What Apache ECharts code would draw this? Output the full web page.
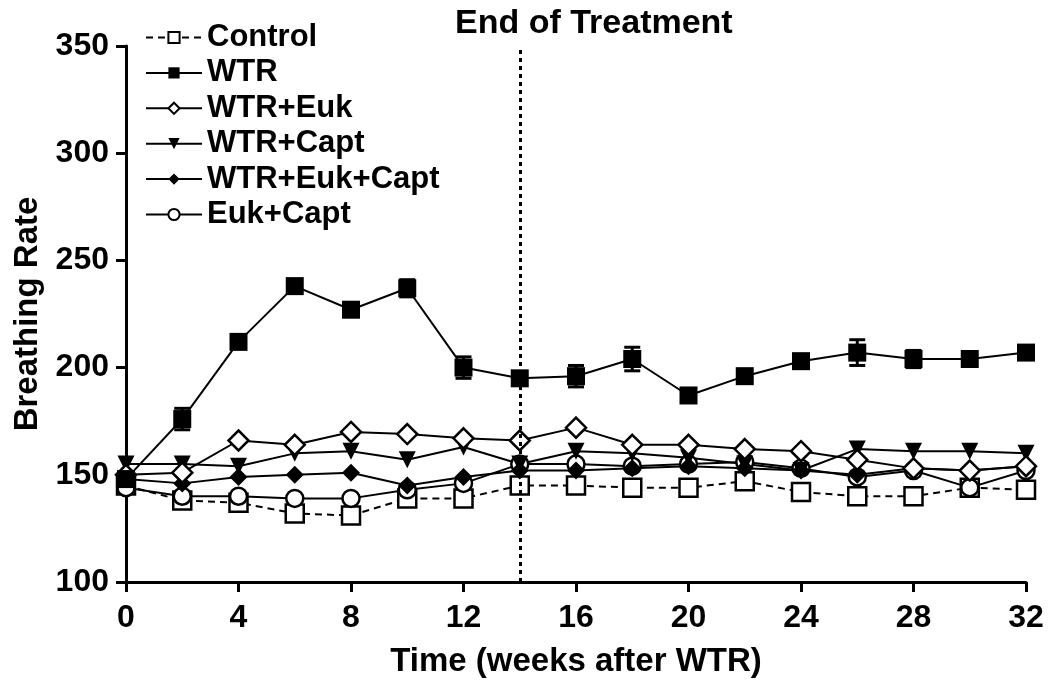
<!DOCTYPE html>
<html>
<head>
<meta charset="utf-8">
<script src="https://cdn.jsdelivr.net/npm/echarts@6/dist/echarts.min.js"></script>
<style>
html,body{margin:0;padding:0;background:#fff;}
#myChart{width:1050px;height:683px;}
</style>
</head>
<body>
<div id="myChart"></div>
<script type="text/javascript">
// weeks after WTR
var weeks = [0, 2, 4, 6, 8, 10, 12, 14, 16, 18, 20, 22, 24, 26, 28, 30, 32];

var control     = [145, 138, 137, 132, 131, 139, 139, 145, 145, 144, 144, 147, 142, 140, 140, 144, 143];
var wtr         = [148, 176, 212, 238, 227, 237, 200, 195, 196, 204, 187, 196, 203, 207, 204, 204, 207];
var wtrErr      = [0, 5, 0, 0, 0, 4, 5, 0, 5, 5.5, 3, 0, 0, 6, 4, 0, 0];
var wtrEuk      = [150, 151, 166, 164, 170, 169, 167, 166, 172, 164, 164, 162, 161, 157, 153, 152, 154];
var wtrCapt     = [155, 155, 154, 160, 161, 157, 163, 155, 161, 160, 158, 155, 152, 162, 161, 161, 160];
var wtrEukCapt  = [148, 146, 149, 150, 151, 145, 149, 152, 152, 153, 154, 153, 152, 150, 153, 152, 154];
var eukCapt     = [144, 140, 140, 139, 139, 143, 146, 155, 155, 154, 155, 156, 153, 149, 152, 144, 152];

var legendNames = ['Control', 'WTR', 'WTR+Euk', 'WTR+Capt', 'WTR+Euk+Capt', 'Euk+Capt'];
var endWeek = 14;

var font = '"Liberation Sans", Arial, sans-serif';

function pairs(arr)
{
	return weeks.map(function(w, i){ return [w, arr[i]]; });
}

function lineSeries(name, arr, symbol, size, open, extra)
{
	var s = {
		name: name,
		type: 'line',
		data: pairs(arr),
		symbol: symbol,
		symbolSize: size,
		showAllSymbol: true,
		lineStyle: { color: '#000', width: 2 },
		itemStyle: open
			? { color: '#fff', borderColor: '#000', borderWidth: 2.5 }
			: { color: '#000', borderColor: '#000', borderWidth: 0 },
		emphasis: { disabled: true },
		animation: false
	};
	for (var k in extra) s[k] = extra[k];
	return s;
}

var option = {
	backgroundColor: '#fff',
	animation: false,
	title: {
		text: 'End of Treatment',
		left: 450,
		top: 2,
		textStyle: { fontFamily: font, fontWeight: 'bold', fontSize: 34, color: '#000' }
	},
	grid: { left: 126, right: 24, top: 46, bottom: 101, outerBoundsMode: 'none' },
	legend: {
		data: legendNames,
		orient: 'vertical',
		left: 140,
		top: 17,
		itemWidth: 56,
		itemHeight: 14,
		itemGap: 4.4,
		textStyle: { fontFamily: font, fontWeight: 'bold', fontSize: 31, color: '#000' }
	},
	xAxis: {
		type: 'value',
		min: 0,
		max: 32,
		interval: 4,
		name: 'Time (weeks after WTR)',
		nameLocation: 'middle',
		nameGap: 63,
		nameTextStyle: { fontFamily: font, fontWeight: 'bold', fontSize: 33, color: '#000' },
		splitLine: { show: false },
		axisLine: { onZero: false, lineStyle: { color: '#000', width: 3 } },
		axisTick: { length: 10, lineStyle: { color: '#000', width: 3 } },
		axisLabel: { fontFamily: font, fontWeight: 'bold', fontSize: 32, color: '#000', margin: 20 }
	},
	yAxis: {
		type: 'value',
		min: 100,
		max: 350,
		interval: 50,
		name: 'Breathing Rate',
		nameLocation: 'middle',
		nameRotate: 90,
		nameGap: 78,
		nameTextStyle: { fontFamily: font, fontWeight: 'bold', fontSize: 33, color: '#000' },
		splitLine: { show: false },
		axisLine: { show: true, lineStyle: { color: '#000', width: 3 } },
		axisTick: { show: true, length: 10, lineStyle: { color: '#000', width: 3 } },
		axisLabel: { fontFamily: font, fontWeight: 'bold', fontSize: 32, color: '#000', margin: 17 }
	},
	series: [
		lineSeries('Control', control, 'rect', 18, true, {
			lineStyle: { color: '#000', width: 2, type: [7, 5] },
			markLine: {
				silent: true,
				symbol: 'none',
				data: [{ xAxis: endWeek }],
				lineStyle: { color: '#000', width: 3, type: [4, 4] },
				label: { show: false }
			}
		}),
		lineSeries('Euk+Capt', eukCapt, 'circle', 17, true, {}),
		lineSeries('WTR+Euk+Capt', wtrEukCapt, 'diamond', 18, false, {}),
		lineSeries('WTR+Capt', wtrCapt, 'triangle', 17, false, { symbolRotate: 180 }),
		lineSeries('WTR+Euk', wtrEuk, 'diamond', 20, true, {}),
		{
			name: 'WTR err',
			type: 'custom',
			data: weeks.map(function(w, i){ return [w, wtr[i], wtrErr[i]]; }),
			renderItem: function(params, api)
			{
				var e = api.value(2);
				if (!e) return null;
				var top = api.coord([api.value(0), api.value(1) + e]);
				var bot = api.coord([api.value(0), api.value(1) - e]);
				var w = 8;
				var st = { stroke: '#000', lineWidth: 3 };
				return {
					type: 'group',
					children: [
						{ type: 'line', shape: { x1: top[0], y1: top[1], x2: bot[0], y2: bot[1] }, style: st },
						{ type: 'line', shape: { x1: top[0] - w, y1: top[1], x2: top[0] + w, y2: top[1] }, style: st },
						{ type: 'line', shape: { x1: bot[0] - w, y1: bot[1], x2: bot[0] + w, y2: bot[1] }, style: st }
					]
				};
			},
			silent: true,
			z: 3
		},
		lineSeries('WTR', wtr, 'rect', 18, false, {})
	]
};

echarts.init(document.getElementById('myChart'), null, { renderer: 'canvas' }).setOption(option);
</script>
</body>
</html>
